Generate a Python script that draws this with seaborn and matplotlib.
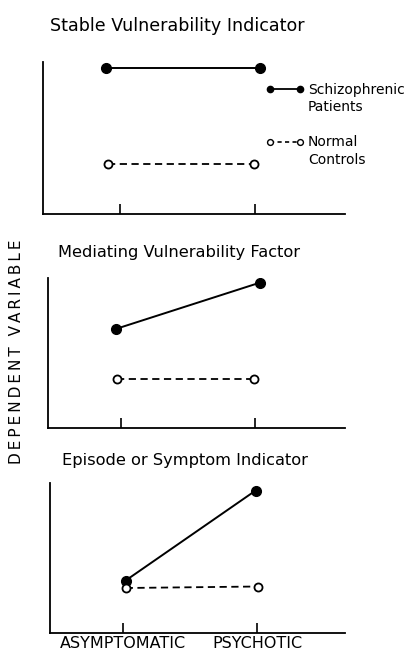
import numpy as np
import pandas as pd
import seaborn as sns
import matplotlib.pyplot as plt
from matplotlib.lines import Line2D

# values (y on a 0-10 scale, x: 0 = asymptomatic, 1 = psychotic)
titles = ['Stable Vulnerability Indicator',
          'Mediating Vulnerability Factor',
          'Episode or Symptom Indicator']
tick_labels = ['ASYMPTOMATIC', 'PSYCHOTIC']
legend_lines = [['Schizophrenic', 'Patients'], ['Normal', 'Controls']]

patients_x = [[-0.10, 1.04], [-0.04, 1.04], [0.02, 0.99]]
patients_y = [[9.6, 9.6], [6.6, 9.7], [3.5, 9.5]]
controls_x = [[-0.09, 0.99], [-0.03, 0.99], [0.02, 1.01]]
controls_y = [[3.3, 3.3], [3.3, 3.3], [3.0, 3.1]]

sns.set_theme(style='white')
plt.rcParams['font.family'] = ['DejaVu Sans']

W, H = 408, 655
fig = plt.figure(figsize=(W / 100, H / 100), dpi=100)

# panel boxes in pixels: left, top, right, bottom, first tick, second tick
boxes = [(43, 62, 345, 214, 120, 255),
         (48, 278, 345, 428, 121, 255),
         (50, 483, 345, 633, 123, 257)]
title_pos = [(50, 26), (58, 253), (62, 460)]
title_size = [12.6, 11.7, 11.7]

for i, (l, t, r, b, t0, t1) in enumerate(boxes):
    ax = fig.add_axes([l / W, 1 - b / H, (r - l) / W, (b - t) / H])
    scale = t1 - t0
    ax.set_xlim(-(t0 - l) / scale, (r - t0) / scale)
    ax.set_ylim(0, 10)

    sns.lineplot(x=patients_x[i], y=patients_y[i], ax=ax, color='black',
                 marker='o', markersize=7, markeredgecolor='black',
                 markeredgewidth=1.0, linewidth=1.4, sort=False)
    sns.lineplot(x=controls_x[i], y=controls_y[i], ax=ax, color='black',
                 marker='o', markersize=5.8, markerfacecolor='white',
                 markeredgecolor='black', markeredgewidth=1.3,
                 linewidth=1.3, linestyle=(0, (4, 2.5)), sort=False)

    for side in ['top', 'right']:
        ax.spines[side].set_visible(False)
    for side in ['left', 'bottom']:
        ax.spines[side].set_color('black')
        ax.spines[side].set_linewidth(1.3)
    ax.set_yticks([])
    ax.set_xticks([0, 1])
    ax.tick_params(axis='x', direction='in', length=7, width=1.2,
                   color='black', bottom=True)
    if i == 2:
        ax.set_xticklabels(tick_labels, fontsize=11.5, color='black')
        ax.tick_params(axis='x', pad=2.5)
    else:
        ax.set_xticklabels([])
    ax.set_xlabel('')
    ax.set_ylabel('')

    tx, ty = title_pos[i]
    fig.text(tx / W, 1 - ty / H, titles[i], fontsize=title_size[i],
             ha='left', va='center', color='black')

# legend: marker handle on the first line of each two-line label
blank = Line2D([], [], linestyle='none')
handles = [Line2D([], [], color='black', marker='o', markersize=4.5,
                  linewidth=1.3),
           blank, blank,
           Line2D([], [], color='black', marker='o', markersize=4.2,
                  markerfacecolor='white', linewidth=1.2,
                  linestyle=(0, (2.5, 2))),
           blank]
labels = [legend_lines[0][0], legend_lines[0][1], ' ',
          legend_lines[1][0], legend_lines[1][1]]
fig.legend(handles, labels, loc='upper left',
           bbox_to_anchor=(266 / W, 1 - 83 / H), frameon=False,
           fontsize=10, numpoints=2, handlelength=2.76, handletextpad=0.26,
           labelspacing=0.25, borderpad=0, borderaxespad=0,
           labelcolor='black')

ylabel = '\u2009'.join('DEPENDENT VARIABLE')
fig.text(17 / W, 1 - 352 / H, ylabel, rotation=90,
         fontsize=11, ha='center', va='center', color='black')

fig.savefig('out.png', dpi=100)
